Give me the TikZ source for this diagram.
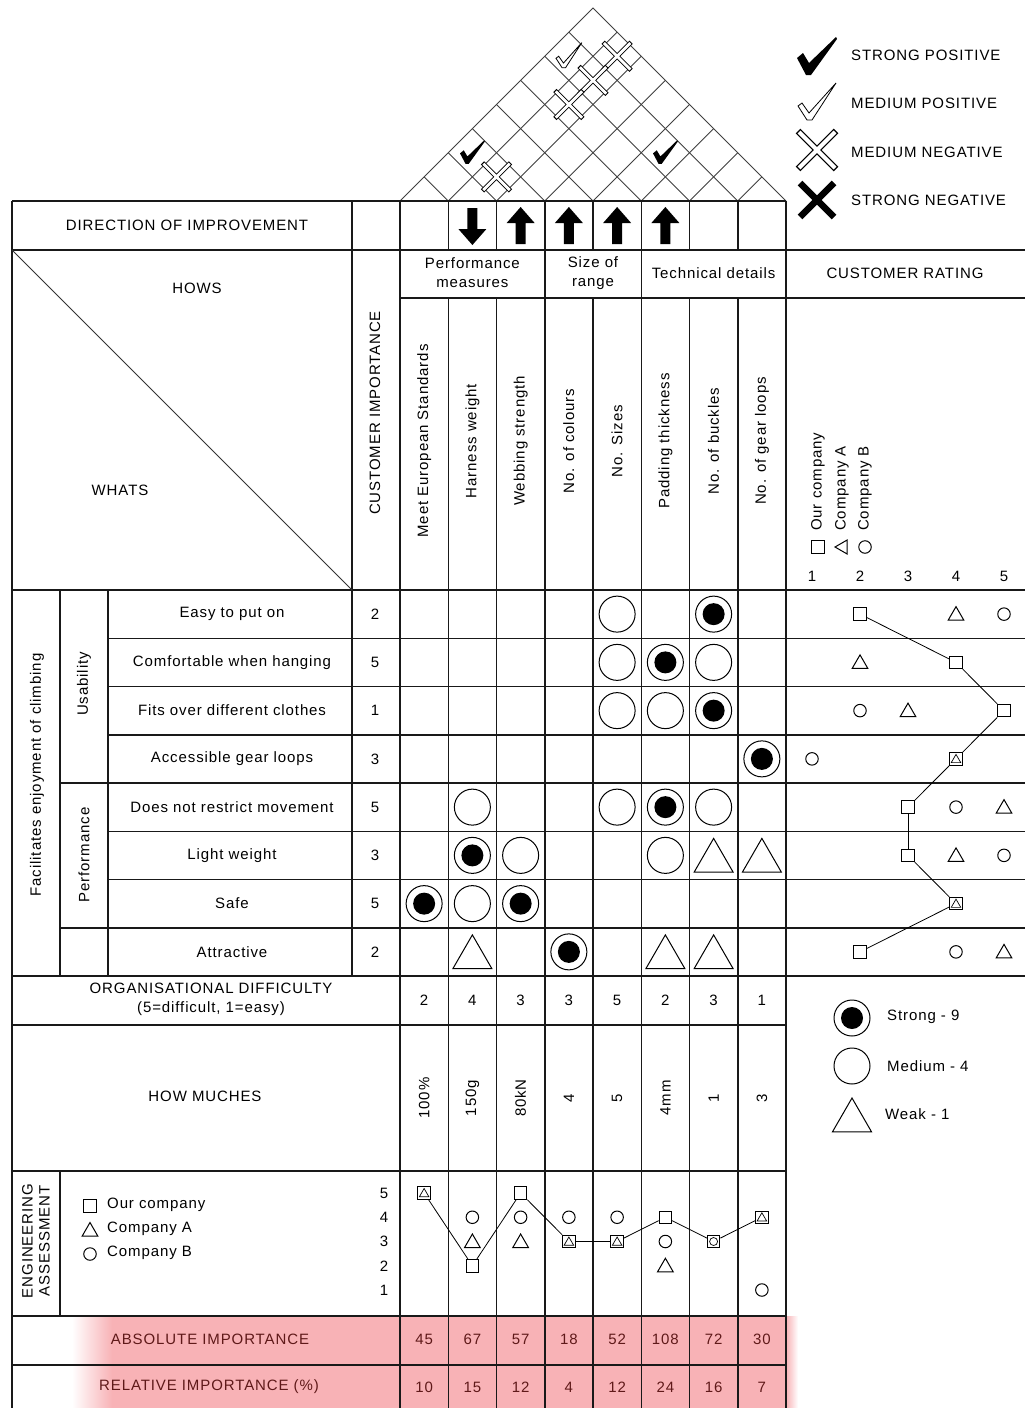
\documentclass[tikz,border=0pt]{standalone}
\usepackage{fontspec}
\setmainfont{Liberation Sans}[LetterSpace=6]
\usetikzlibrary{shapes.geometric}
\definecolor{hpink}{RGB}{248,178,182}
\definecolor{hdark}{RGB}{95,25,25}
\tikzset{
  spos/.pic={\fill[black] (-20,1) -- (-14,-4) -- (-8,6) -- (19,-20) -- (20,-18) -- (-6,18) -- (-11,18) -- cycle;},
  mpos/.pic={\draw[black,line width=0.8pt,fill=white] (-19,3) -- (-15,0) -- (-8,10) -- (19,-20) -- (-5,17) -- (-10,17) -- cycle;},
  mneg/.pic={\draw[black,line width=6.5pt] (-19,-19) -- (19,19) (-19,19) -- (19,-19);
             \draw[white,line width=4pt] (-18,-18) -- (18,18) (-18,18) -- (18,-18);},
  mnegs/.pic={\draw[black,line width=4.6pt] (-14,-14) -- (14,14) (-14,14) -- (14,-14);
              \draw[white,line width=2.8pt] (-13.2,-13.2) -- (13.2,13.2) (-13.2,13.2) -- (13.2,-13.2);},
  sneg/.pic={\draw[black,line width=6.5pt] (-17,-17) -- (17,17) (-17,17) -- (17,-17);}
}
\begin{document}
\begin{tikzpicture}[x=1pt,y=-1pt,
  gl/.style={line width=1.5pt, draw=black!90},
  rl/.style={line width=0.9pt, draw=black!75},
  tx/.style={font=\fontsize{15}{19}\selectfont, inner sep=0pt, align=center},
  tr/.style={tx, rotate=90},
  ptx/.style={tx, text=hdark},
  srel/.style={circle, draw, line width=1pt, minimum size=36pt, inner sep=0pt,
    path picture={\fill[black] (path picture bounding box.center) circle (11pt);}},
  mrel/.style={circle, draw, line width=1pt, minimum size=36pt, inner sep=0pt},
  wrel/.style={regular polygon, regular polygon sides=3, draw, line width=1pt, minimum size=45pt, inner sep=0pt, yshift=-5.5pt},
  csq/.style={draw, line width=1pt, minimum size=12.5pt, inner sep=0pt},
  ctri/.style={regular polygon, regular polygon sides=3, draw, line width=1pt, minimum size=18pt, inner sep=0pt, yshift=-1.5pt},
  ctril/.style={regular polygon, regular polygon sides=3, shape border rotate=90, draw, line width=1pt, minimum size=16pt, inner sep=0pt},
  ctris/.style={regular polygon, regular polygon sides=3, draw, line width=0.7pt, minimum size=11pt, inner sep=0pt, yshift=-1pt},
  ccir/.style={circle, draw, line width=1pt, minimum size=12.5pt, inner sep=0pt},
  ccirs/.style={circle, draw, line width=0.7pt, minimum size=8pt, inner sep=0pt},
  cline/.style={line width=0.8pt, draw=black}
]
\useasboundingbox (0,0) rectangle (1025,1408);
\fill[white] (0,0) rectangle (1025,1408);

% pink shading of importance rows
\shade[left color=white, right color=hpink] (72,1316) rectangle (112,1408);
\fill[hpink] (112,1316) rectangle (786,1408);
\shade[left color=hpink, right color=white] (786,1316) rectangle (798,1408);

% ---------- roof ----------
\draw[rl] (400,201) -- (593,8) -- (786,201);
\foreach \i in {1,...,7}{
  \pgfmathsetmacro\bx{400+48.25*\i}
  \draw[rl] (\bx,201) -- ({(786+\bx)/2},{201-(786-\bx)/2});
  \draw[rl] (\bx,201) -- ({(400+\bx)/2},{201-(\bx-400)/2});
}
\pic[scale=0.62] at (472.4,152.75) {spos};
\pic[scale=0.62] at (665.4,152.75) {spos};
\pic at (496.5,176.9) {mnegs};
\pic[scale=0.68] at (568.9,56.25) {mpos};
\pic at (617.1,56.25) {mnegs};
\pic at (593,80.4) {mnegs};
\pic at (568.9,104.5) {mnegs};

% ---------- roof legend ----------
\pic at (817,57) {spos};
\pic at (817,103) {mpos};
\pic at (817,150) {mneg};
\pic at (817,200) {sneg};
\node[tx, anchor=west] (lsp) at (851,55) {STRONG POSITIVE};
\node[tx, anchor=west] (lmp) at (851,103) {MEDIUM POSITIVE};
\node[tx, anchor=west] (lmn) at (851,152) {MEDIUM NEGATIVE};
\node[tx, anchor=west] (lsn) at (851,200) {STRONG NEGATIVE};

% ---------- grid lines ----------
\draw[gl] (12,201) -- (786,201);
\draw[gl] (12,250) -- (1025,250);
\draw[gl] (400,298) -- (1025,298);
\draw[gl] (12,590) -- (1025,590);
\foreach \r in {1,2,3,5,6}{\draw[gl] (108,{590+48.25*\r}) -- (1025,{590+48.25*\r});}
\foreach \r in {4,7}{\draw[gl] (60,{590+48.25*\r}) -- (1025,{590+48.25*\r});}
\draw[gl] (12,976) -- (1025,976);
\foreach \y in {1025,1171,1316,1365}{\draw[gl] (12,\y) -- (786,\y);}
\draw[gl] (12,201) -- (12,1408);
\draw[gl] (60,590) -- (60,976);
\draw[gl] (60,1171) -- (60,1316);
\draw[gl] (108,590) -- (108,976);
\draw[gl] (352,201) -- (352,976);
\draw[gl] (400,201) -- (400,1408);
\draw[gl] (786,201) -- (786,1408);
\foreach \j in {1,...,7}{
  \draw[gl] ({400+48.25*\j},201) -- ({400+48.25*\j},250);
  \draw[gl] ({400+48.25*\j},298) -- ({400+48.25*\j},1408);
}
\draw[gl] (544.75,250) -- (544.75,298);
\draw[gl] (641.25,250) -- (641.25,298);
\draw[line width=1pt, draw=black!80] (12,250) -- (352,590);

% ---------- direction of improvement ----------
\node[tx] (doi) at (187,225) {DIRECTION OF IMPROVEMENT};
\foreach \c in {3,4,5,6}{
  \pgfmathsetmacro\cx{400+48.25*(\c-0.5)}
  \fill[black] (\cx,207) -- (\cx+14,223) -- (\cx+5,223) -- (\cx+5,244) -- (\cx-5,244) -- (\cx-5,223) -- (\cx-14,223) -- cycle;
}
\fill[black] (467.4,208) -- (477.4,208) -- (477.4,229) -- (486.4,229) -- (472.4,245) -- (458.4,229) -- (467.4,229) -- cycle;

% ---------- headers ----------
\node[tx] (hows) at (197,288) {HOWS};
\node[tx] (whats) at (120,490) {WHATS};
\node[tr] (cimp) at (375,413) {CUSTOMER IMPORTANCE};
\node[tx] (gperf) at (472.4,273) {Performance\\measures};
\node[tx] (gsize) at (593,273) {Size of\\range};
\node[tx] (gtech) at (713.6,273) {Technical details};
\node[tx] (crat) at (905,273) {CUSTOMER RATING};
\foreach \c/\txt in {1/Meet European Standards,2/Harness weight,3/Webbing strength,4/No. of colours,5/No. Sizes,6/Padding thickness,7/No. of buckles,8/No. of gear loops}{
  \node[tr] (how\c) at ({400+48.25*(\c-0.5)},441) {\txt};
}

% customer rating legend (rotated)
\node[csq] (crsq) at (818,547) {};
\node[ctril] (crtri) at (843,547) {};
\node[ccir] (crcir) at (865,547) {};
\node[tr, anchor=west] (crl1) at (818,531) {Our company};
\node[tr, anchor=west] (crl2) at (842,531) {Company A};
\node[tr, anchor=west] (crl3) at (865,531) {Company B};
\foreach \v in {1,...,5}{\node[tx] (crn\v) at ({812+48*(\v-1)},576) {\v};}

% ---------- whats ----------
\node[tr] (lev1) at (37,775) {Facilitates enjoyment of climbing};
\node[tr] (lev2a) at (84,684) {Usability};
\node[tr] (lev2b) at (84,855) {Performance};
\foreach \r/\txt/\imp in {1/Easy to put on/2,2/Comfortable when hanging/5,3/Fits over different clothes/1,4/Accessible gear loops/3,5/Does not restrict movement/5,6/Light weight/3,7/Safe/5,8/Attractive/2}{
  \node[tx] (what\r) at (232,{590+48.25*(\r-0.5)}) {\txt};
  \node[tx] (imp\r) at (375,{590+48.25*(\r-0.5)}) {\imp};
}

% ---------- relationships ----------
\foreach \r/\c/\k in {1/5/mrel,1/7/srel,2/5/mrel,2/6/srel,2/7/mrel,3/5/mrel,3/6/mrel,3/7/srel,4/8/srel,
  5/2/mrel,5/5/mrel,5/6/srel,5/7/mrel,6/2/srel,6/3/mrel,6/6/mrel,6/7/wrel,6/8/wrel,
  7/1/srel,7/2/mrel,7/3/srel,8/2/wrel,8/4/srel,8/6/wrel,8/7/wrel}{
  \node[\k] (rel\r-\c) at ({400+48.25*(\c-0.5)},{590+48.25*(\r-0.5)}) {};
}

% ---------- customer rating ----------
\foreach \r/\v in {1/2,2/4,3/5,4/4,5/3,6/3,7/4,8/2}{
  \node[csq] (cs\r) at ({812+48*(\v-1)},{590+48.25*(\r-0.5)}) {};
}
\foreach \r/\v in {1/4,2/2,3/3,5/5,6/4,8/5}{
  \node[ctri] (ct\r) at ({812+48*(\v-1)},{590+48.25*(\r-0.5)}) {};
}
\foreach \r/\v in {4/4,7/4}{
  \node[ctris] (cts\r) at ({812+48*(\v-1)},{590+48.25*(\r-0.5)}) {};
}
\foreach \r/\v in {1/5,3/2,4/1,5/4,6/5,8/4}{
  \node[ccir] (cc\r) at ({812+48*(\v-1)},{590+48.25*(\r-0.5)}) {};
}
\foreach \a/\b in {1/2,2/3,3/4,4/5,5/6,6/7,7/8}{\draw[cline] (cs\a) -- (cs\b);}

% ---------- organisational difficulty ----------
\node[tx] (orgd) at (211,999) {ORGANISATIONAL DIFFICULTY\\(5=difficult, 1=easy)};
\foreach \c/\v in {1/2,2/4,3/3,4/3,5/5,6/2,7/3,8/1}{
  \node[tx] (od\c) at ({400+48.25*(\c-0.5)},1000) {\v};
}

% ---------- how muches ----------
\node[tx] (hm) at (205,1096) {HOW MUCHES};
\foreach \c/\v in {1/100\%,2/150g,3/80kN,4/4,5/5,6/4mm,7/1,8/3}{
  \node[tr] (hmv\c) at ({400+48.25*(\c-0.5)},1098) {\v};
}

% ---------- engineering assessment ----------
\node[tr, font=\fontsize{15}{17}\selectfont] (ea) at (36,1241) {ENGINEERING\\ASSESSMENT};
\node[csq] (easq) at (90,1206) {};
\node[ctri] (eatri) at (90,1230) {};
\node[ccir] (eacir) at (90,1254) {};
\node[tx, anchor=west] (eal1) at (107,1205) {Our company};
\node[tx, anchor=west] (eal2) at (107,1229) {Company A};
\node[tx, anchor=west] (eal3) at (107,1253) {Company B};
\foreach \v in {1,...,5}{\node[tx] (eas\v) at (384,{1193+(5-\v)*24.25}) {\v};}
\foreach \c/\v in {1/5,2/2,3/5,4/3,5/3,6/4,7/3,8/4}{
  \node[csq] (es\c) at ({400+48.25*(\c-0.5)},{1193+(5-\v)*24.25}) {};
}
\foreach \c/\v in {2/3,3/3,6/2}{
  \node[ctri] (et\c) at ({400+48.25*(\c-0.5)},{1193+(5-\v)*24.25}) {};
}
\foreach \c/\v in {1/5,4/3,5/3,8/4}{
  \node[ctris] (ets\c) at ({400+48.25*(\c-0.5)},{1193+(5-\v)*24.25}) {};
}
\foreach \c/\v in {2/4,3/4,4/4,5/4,6/3,8/1}{
  \node[ccir] (ec\c) at ({400+48.25*(\c-0.5)},{1193+(5-\v)*24.25}) {};
}
\node[ccirs] (ecs7) at (713.6,1241.5) {};
\foreach \a/\b in {1/2,2/3,3/4,4/5,5/6,6/7,7/8}{\draw[cline] (es\a) -- (es\b);}

% ---------- importance rows ----------
\node[ptx] (absi) at (210,1339) {ABSOLUTE IMPORTANCE};
\node[ptx] (reli) at (209,1387) {RELATIVE IMPORTANCE (\%)};
\foreach \c/\a/\p in {1/45/10,2/67/15,3/57/12,4/18/4,5/52/12,6/108/24,7/72/16,8/30/7}{
  \node[ptx] (abs\c) at ({400+48.25*(\c-0.5)},1339) {\a};
  \node[ptx] (rel\c) at ({400+48.25*(\c-0.5)},1387) {\p};
}

% ---------- relationship legend ----------
\node[srel] (lgs) at (852,1018) {};
\node[mrel] (lgm) at (852,1066) {};
\node[wrel] (lgw) at (852,1115) {};
\node[tx, anchor=west] (lgst) at (887,1017) {Strong - 9};
\node[tx, anchor=west] (lgmt) at (887,1066) {Medium - 4};
\node[tx, anchor=west] (lgwt) at (885,1114) {Weak - 1};
\end{tikzpicture}
\end{document}
